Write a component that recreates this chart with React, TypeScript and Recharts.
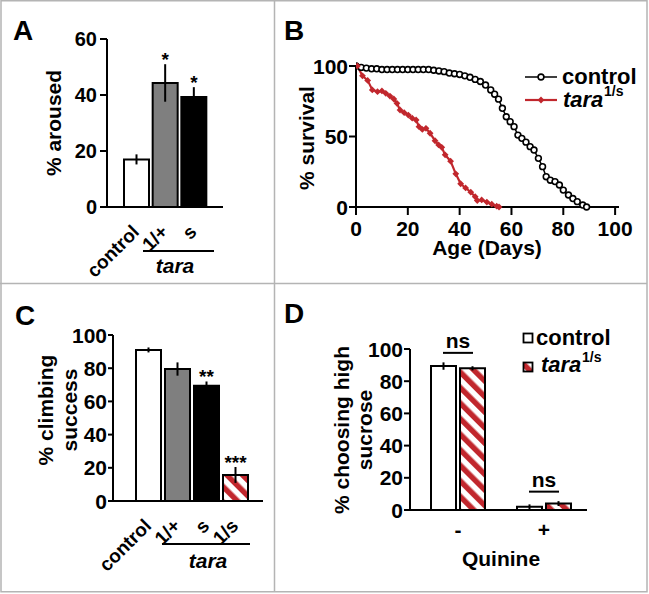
import React from 'react';
import { BarChart, Bar, XAxis, YAxis, ErrorBar, LabelList, LineChart, Line, Cell } from 'recharts';

const FONT = '"Liberation Sans", Arial, Helvetica, sans-serif';
const RED = '#c1272d';
const GRAY = '#7f7f7f';
const BORDER = '#b4b4b4';

// ---------- Panel A ----------
const aCategories = ['control', '1/+', 's'];
const aMeans = [17, 44.3, 39.3];
const aErrors = [1.8, 6.7, 3.5];
const aSig = ['', '*', '*'];
const aTicks = [0, 20, 40, 60];

// ---------- Panel B ----------
const controlDays = [0, 2, 4, 6, 8, 10, 12, 14, 16, 18, 20, 22, 24, 26, 28, 30, 32, 34, 36, 38, 40, 42, 44, 46, 48, 50, 52, 53.5, 55, 56.5, 58, 59.5, 61, 62.5, 64, 65.6, 67.2, 68.7, 70.4, 72, 73.4, 75, 76.8, 78.5, 80, 82, 83.7, 85.4, 87.5, 89];
const controlSurvival = [100, 99, 98.5, 98, 98, 97.5, 97.5, 97.5, 97.5, 97.5, 97.5, 97.5, 97.5, 97.5, 97.5, 97, 96.5, 96, 95, 94.5, 94, 93, 92, 90.5, 89, 86.5, 83, 80, 76.5, 70, 64, 60.5, 57, 51, 48.7, 46, 42.8, 40.4, 34.5, 28.6, 21.5, 19, 18, 15.6, 12, 8.5, 6, 3.8, 1.4, 0];
const taraDays = [0.5, 2.5, 4.5, 6.3, 8.3, 10, 11.5, 13.1, 14.6, 15.8, 17, 18.6, 20.2, 21.7, 23.2, 24.3, 25.6, 27, 28.6, 30.5, 31.9, 33.1, 34.4, 36.5, 38.5, 40.4, 42.3, 44.3, 46, 46.8, 48.5, 50.5, 52.4, 54.3, 55.2];
const taraSurvival = [100, 93, 89.8, 83, 81.8, 82.3, 80.6, 78.7, 76.6, 73.5, 68.8, 66.9, 65.2, 63, 61.7, 57, 55, 55.8, 52.3, 47, 44, 42.3, 37, 32.5, 23.5, 16.5, 13.5, 10.5, 7.3, 4.6, 5, 3.5, 2, 0.6, 0];
const bXTicks = [0, 20, 40, 60, 80, 100];
const bYTicks = [0, 50, 100];

// ---------- Panel C ----------
const cCategories = ['control', '1/+', 's', '1/s'];
const cMeans = [91, 79.5, 69.5, 15.7];
const cErrors = [1.5, 4, 2.5, 4.8];
const cSig = ['', '', '**', '***'];
const cTicks = [0, 20, 40, 60, 80, 100];

// ---------- Panel D ----------
const dGroups = ['-', '+'];
const dControlMeans = [89.4, 2];
const dControlErrors = [2.3, 1.5];
const dTaraMeans = [88, 4];
const dTaraErrors = [1.3, 1.5];
const dSig = ['ns', 'ns'];
const dTicks = [0, 20, 40, 60, 80, 100];

// ---------- styles ----------
const genotypeFill: Record<string, string> = { control: '#ffffff', '1/+': GRAY, s: '#000000', '1/s': 'url(#hatch)' };
const axisLineStyle = { stroke: '#000', strokeWidth: 2 };
const tickLineStyle = { stroke: '#000', strokeWidth: 2 };
const D_BAR_GAP = 4;

const aData = aCategories.map((name, i) => ({ name, mean: aMeans[i], err: aErrors[i] }));
const cData = cCategories.map((name, i) => ({ name, mean: cMeans[i], err: cErrors[i] }));
const controlData = controlDays.map((day, i) => ({ day, surv: controlSurvival[i] }));
const taraData = taraDays.map((day, i) => ({ day, surv: taraSurvival[i] }));
const dData = dGroups.map((name, i) => ({
  name,
  control: dControlMeans[i],
  controlErr: dControlErrors[i],
  tara: dTaraMeans[i],
  taraErr: dTaraErrors[i],
}));

function makeYTick(size: number) {
  return (props: any) => (
    <text x={props.x} y={props.y} dy="0.36em" textAnchor="end" fontFamily={FONT} fontSize={size} fontWeight={700} fill="#000">
      {props.payload.value}
    </text>
  );
}

function makeXNumTick(size: number) {
  return (props: any) => (
    <text x={props.x} y={props.y} dy="0.72em" textAnchor="middle" fontFamily={FONT} fontSize={size} fontWeight={700} fill="#000">
      {props.payload.value}
    </text>
  );
}

function RotatedTick(props: any) {
  const { x, y, payload } = props;
  const ax = x + 4;
  const ay = y + 26;
  return (
    <text x={ax} y={ay} transform={`rotate(-45 ${ax} ${ay})`} textAnchor="end" fontFamily={FONT} fontSize={19} fontWeight={700} fill="#000">
      {payload.value}
    </text>
  );
}

function PlainTick(props: any) {
  const { x, y, payload } = props;
  return (
    <text x={x} y={y + 27} textAnchor="middle" fontFamily={FONT} fontSize={21} fontWeight={700} fill="#000">
      {payload.value}
    </text>
  );
}

function geom(props: any) {
  const vb = props.viewBox || {};
  return {
    x: props.x ?? vb.x,
    y: props.y ?? vb.y,
    width: props.width ?? vb.width,
    height: props.height ?? vb.height,
  };
}

function makeSigLabel(means: number[], errors: number[], sig: string[]) {
  return (props: any) => {
    const i = props.index;
    if (!sig[i]) return null;
    const { x, y, width, height } = geom(props);
    const per = height / means[i];
    const top = y - errors[i] * per;
    return (
      <text x={x + width / 2} y={top + 2} textAnchor="middle" fontFamily={FONT} fontSize={19} fontWeight={700} fill="#000">
        {sig[i]}
      </text>
    );
  };
}

function NsLabel(props: any) {
  const i = props.index;
  const { x, y, height } = geom(props);
  const per = height / dTaraMeans[i];
  const baseY = y + height;
  const topVal = Math.max(dControlMeans[i] + dControlErrors[i], dTaraMeans[i] + dTaraErrors[i]);
  const errTop = baseY - topVal * per;
  const cx = x - D_BAR_GAP / 2;
  const lineY = errTop - 9.5;
  return (
    <g>
      <line x1={cx - 15} x2={cx + 15} y1={lineY} y2={lineY} stroke="#000" strokeWidth={2} />
      <text x={cx} y={lineY - 4.5} textAnchor="middle" fontFamily={FONT} fontSize={21} fontWeight={700} fill="#000">
        {dSig[i]}
      </text>
    </g>
  );
}

function OpenCircle(props: any) {
  const { cx, cy } = props;
  if (cx == null || cy == null) return <g />;
  return <circle cx={cx} cy={cy} r={2.9} fill="#fff" stroke="#000" strokeWidth={1.6} />;
}

function Diamond(props: any) {
  const { cx, cy } = props;
  if (cx == null || cy == null) return <g />;
  const s = 3.4;
  return <path d={`M${cx},${cy - s}L${cx + s},${cy}L${cx},${cy + s}L${cx - s},${cy}Z`} fill={RED} />;
}

const textBold = { fontFamily: FONT, fontWeight: 700, fill: '#000' } as const;

const YTickA = makeYTick(20);
const YTickB = makeYTick(21);
const YTickC = makeYTick(21);
const YTickD = makeYTick(21);
const XTickB = makeXNumTick(21);

export default function App() {
  return (
    <div style={{ position: 'absolute', left: 0, top: 0, width: 649, height: 594, background: '#fff', fontFamily: FONT }}>
      <svg width={0} height={0} style={{ position: 'absolute' }}>
        <defs>
          <pattern id="hatch" patternUnits="userSpaceOnUse" width="11" height="11" patternTransform="rotate(-45)">
            <rect width="11" height="11" fill="#fff" />
            <rect width="5.5" height="11" fill={RED} />
          </pattern>
        </defs>
      </svg>

      {/* Panel A */}
      <div style={{ position: 'absolute', left: 0, top: 0 }}>
        <BarChart width={274} height={283} data={aData} margin={{ top: 39, right: 51, bottom: 16, left: 57 }}>
          <XAxis dataKey="name" interval={0} axisLine={axisLineStyle} tickLine={false} tickSize={0} tickMargin={0} tick={<RotatedTick />} padding={{ left: 15, right: 15 }} height={60} />
          <YAxis domain={[0, 60]} ticks={aTicks} interval={0} width={50} axisLine={axisLineStyle} tickLine={tickLineStyle} tickSize={7} tickMargin={3} tick={<YTickA />} />
          <Bar dataKey="mean" barSize={25} stroke="#000" strokeWidth={2} isAnimationActive={false}>
            {aData.map((d) => (
              <Cell key={d.name} fill={genotypeFill[d.name]} />
            ))}
            <ErrorBar dataKey="err" width={0} stroke="#000" strokeWidth={2} direction="y" />
            <LabelList dataKey="mean" content={makeSigLabel(aMeans, aErrors, aSig)} />
          </Bar>
        </BarChart>
      </div>

      {/* Panel B */}
      <div style={{ position: 'absolute', left: 274, top: 0 }}>
        <LineChart width={375} height={283} margin={{ top: 66, right: 30, bottom: 16, left: 32 }}>
          <XAxis type="number" dataKey="day" domain={[0, 101.5]} ticks={bXTicks} interval={0} allowDataOverflow axisLine={axisLineStyle} tickLine={tickLineStyle} tickSize={8} tickMargin={6} tick={<XTickB />} height={60} />
          <YAxis type="number" domain={[0, 100]} ticks={bYTicks} interval={0} width={50} axisLine={axisLineStyle} tickLine={tickLineStyle} tickSize={7} tickMargin={1} tick={<YTickB />} />
          <Line data={controlData} dataKey="surv" type="linear" stroke="#000" strokeWidth={1.5} dot={<OpenCircle />} isAnimationActive={false} />
          <Line data={taraData} dataKey="surv" type="linear" stroke={RED} strokeWidth={2.2} dot={<Diamond />} isAnimationActive={false} />
        </LineChart>
      </div>

      {/* Panel C */}
      <div style={{ position: 'absolute', left: 0, top: 283 }}>
        <BarChart width={274} height={309} data={cData} margin={{ top: 52, right: 11, bottom: 31, left: 63 }}>
          <XAxis dataKey="name" interval={0} axisLine={axisLineStyle} tickLine={false} tickSize={0} tickMargin={0} tick={<RotatedTick />} padding={{ left: 21, right: 13 }} height={60} />
          <YAxis domain={[0, 100]} ticks={cTicks} interval={0} width={50} axisLine={axisLineStyle} tickLine={tickLineStyle} tickSize={5} tickMargin={1} tick={<YTickC />} />
          <Bar dataKey="mean" barSize={25} stroke="#000" strokeWidth={2} isAnimationActive={false}>
            {cData.map((d) => (
              <Cell key={d.name} fill={genotypeFill[d.name]} />
            ))}
            <ErrorBar dataKey="err" width={0} stroke="#000" strokeWidth={2} direction="y" />
            <LabelList dataKey="mean" content={makeSigLabel(cMeans, cErrors, cSig)} />
          </Bar>
        </BarChart>
      </div>

      {/* Panel D */}
      <div style={{ position: 'absolute', left: 274, top: 283 }}>
        <BarChart width={375} height={309} data={dData} margin={{ top: 66, right: 62, bottom: 22, left: 86 }} barGap={D_BAR_GAP}>
          <XAxis dataKey="name" interval={0} axisLine={axisLineStyle} tickLine={false} tickSize={0} tickMargin={0} tick={<PlainTick />} padding={{ left: 5, right: 0 }} height={60} />
          <YAxis domain={[0, 100]} ticks={dTicks} interval={0} width={50} axisLine={axisLineStyle} tickLine={tickLineStyle} tickSize={6} tickMargin={1} tick={<YTickD />} />
          <Bar dataKey="control" barSize={25} fill="#fff" stroke="#000" strokeWidth={2} isAnimationActive={false}>
            <ErrorBar dataKey="controlErr" width={0} stroke="#000" strokeWidth={2} direction="y" />
          </Bar>
          <Bar dataKey="tara" barSize={25} fill="url(#hatch)" stroke="#000" strokeWidth={2} isAnimationActive={false}>
            <ErrorBar dataKey="taraErr" width={0} stroke="#000" strokeWidth={2} direction="y" />
            <LabelList dataKey="tara" content={NsLabel} />
          </Bar>
        </BarChart>
      </div>

      {/* Overlay: frame, panel letters, titles, brackets, legends */}
      <svg width={649} height={594} style={{ position: 'absolute', left: 0, top: 0, pointerEvents: 'none' }}>
        <rect x={1} y={0.75} width={646} height={591} fill="none" stroke={BORDER} strokeWidth={1.5} />
        <line x1={274.5} x2={274.5} y1={0} y2={592} stroke={BORDER} strokeWidth={1.5} />
        <line x1={0} x2={647} y1={283.5} y2={283.5} stroke={BORDER} strokeWidth={1.5} />

        <text x={13} y={40} fontSize={28} {...textBold}>A</text>
        <text x={284} y={40} fontSize={28} {...textBold}>B</text>
        <text x={15} y={325} fontSize={28} {...textBold}>C</text>
        <text x={284} y={323} fontSize={28} {...textBold}>D</text>

        {/* A titles */}
        <text transform="translate(61,123) rotate(-90)" textAnchor="middle" fontSize={21} {...textBold}>% aroused</text>
        <line x1={143} x2={214} y1={251} y2={251} stroke="#000" strokeWidth={2} />
        <text x={175} y={273} textAnchor="middle" fontSize={21} fontStyle="italic" {...textBold}>tara</text>

        {/* B titles */}
        <text transform="translate(314,138) rotate(-90)" textAnchor="middle" fontSize={21} {...textBold}>% survival</text>
        <text x={487} y={255} textAnchor="middle" fontSize={21} {...textBold}>Age (Days)</text>
        <line x1={525} x2={557} y1={77} y2={77} stroke="#000" strokeWidth={1.5} />
        <circle cx={541} cy={77} r={2.9} fill="#fff" stroke="#000" strokeWidth={1.6} />
        <text x={562} y={84} fontSize={22} {...textBold}>control</text>
        <line x1={525} x2={557} y1={100} y2={100} stroke={RED} strokeWidth={2.2} />
        <path d="M541,96.6L544.4,100L541,103.4L537.6,100Z" fill={RED} />
        <text x={563} y={107} fontSize={22} fontStyle="italic" {...textBold}>tara</text>
        <text x={604} y={96} fontSize={14} {...textBold}>1/s</text>

        {/* C titles */}
        <text transform="translate(53,410) rotate(-90)" textAnchor="middle" fontSize={21} {...textBold}>% climbing</text>
        <text transform="translate(77,410) rotate(-90)" textAnchor="middle" fontSize={21} {...textBold}>success</text>
        <line x1={162} x2={250} y1={544} y2={544} stroke="#000" strokeWidth={2} />
        <text x={208} y={568} textAnchor="middle" fontSize={21} fontStyle="italic" {...textBold}>tara</text>

        {/* D titles */}
        <text transform="translate(349,430) rotate(-90)" textAnchor="middle" fontSize={21} {...textBold}>% choosing high</text>
        <text transform="translate(372,430) rotate(-90)" textAnchor="middle" fontSize={21} {...textBold}>sucrose</text>
        <text x={501} y={566} textAnchor="middle" fontSize={21} {...textBold}>Quinine</text>
        <rect x={523.5} y={333.5} width={9} height={9} fill="#fff" stroke="#000" strokeWidth={1.8} />
        <text x={536} y={345} fontSize={22} {...textBold}>control</text>
        <rect x={523.5} y={362.5} width={9} height={9} fill="url(#hatch)" stroke="#000" strokeWidth={1.8} />
        <text x={541} y={372} fontSize={22} fontStyle="italic" {...textBold}>tara</text>
        <text x={582} y={362} fontSize={14} {...textBold}>1/s</text>
      </svg>
    </div>
  );
}
